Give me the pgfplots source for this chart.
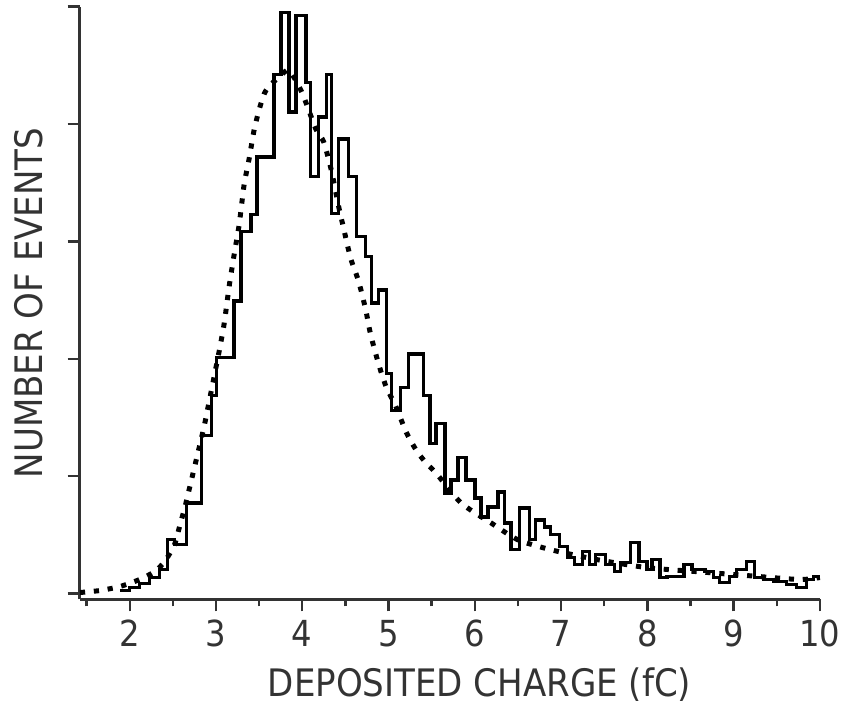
\documentclass[border=0pt]{standalone}
\usepackage{pgfplots}
\pgfplotsset{compat=1.18}
\usepackage{fontspec}
\setmainfont{DejaVu Sans Condensed}
\definecolor{axcol}{HTML}{333333}
\begin{document}
\begin{tikzpicture}
\begin{axis}[
  width=371.5pt, height=297.5pt, scale only axis,
  xmin=1.42, xmax=10, ymin=-0.05, ymax=5,
  axis lines=left, axis line style={-, line width=1.4pt, axcol},
  xtick={2,3,4,5,6,7,8,9,10},
  minor xtick={1.5,2.5,3.5,4.5,5.5,6.5,7.5,8.5,9.5},
  ytick={0,1,2,3,4,5}, yticklabels={},
  tick align=outside,
  major tick length=6pt, minor tick length=3.5pt,
  every tick/.style={line width=1.2pt, axcol},
  tick label style={font=\fontsize{18}{21}\selectfont, text=axcol},
  xticklabel style={yshift=-1pt},
  /pgf/number format/assume math mode=true,
  xlabel={DEPOSITED CHARGE (fC)},
  ylabel={NUMBER OF EVENTS},
  label style={font=\fontsize{19}{22}\selectfont, text=axcol},
  xlabel style={yshift=-3.5pt, xshift=15pt},
  ylabel style={yshift=2pt},
  clip=false,
]
% fitted curve (dotted)
\addplot[black, line width=2.5pt, dash pattern=on 2.6pt off 4.4pt, smooth, tension=0.4] coordinates {
(1.423,0.008) (1.654,0.025) (1.885,0.059) (2.115,0.119) (2.288,0.186) (2.404,0.271)
(2.519,0.415) (2.577,0.568) (2.646,0.754) (2.715,0.966) (2.784,1.178) (2.865,1.432)
(2.946,1.729) (3.038,2.068) (3.096,2.305) (3.153,2.619) (3.211,2.890) (3.269,3.144)
(3.326,3.483) (3.384,3.703) (3.442,3.949) (3.499,4.119) (3.557,4.254) (3.615,4.322)
(3.730,4.398) (3.845,4.458) (3.995,4.271) (4.157,3.958) (4.249,3.847) (4.341,3.593)
(4.422,3.297) (4.480,3.110) (4.561,2.856) (4.653,2.661) (4.734,2.424) (4.791,2.212)
(4.884,1.958) (4.976,1.754) (5.080,1.602) (5.206,1.373) (5.322,1.220) (5.437,1.110)
(5.552,1.025) (5.841,0.771) (6.187,0.602) (6.498,0.458) (6.879,0.373) (7.421,0.288)
(7.998,0.220) (8.574,0.186) (9.151,0.153) (9.762,0.119) (10.0,0.136)
};
% measured histogram
\addplot[black, line width=1.7pt, const plot mark left] coordinates {
(1.885,0.025) (2.000,0.051) (2.115,0.085) (2.231,0.136) (2.346,0.203) (2.438,0.458)
(2.519,0.415) (2.657,0.771) (2.830,1.347) (2.946,1.686) (3.003,2.008) (3.211,2.492)
(3.292,3.085) (3.407,3.229) (3.476,3.720) (3.672,4.424) (3.753,4.949) (3.845,4.102)
(3.926,4.924) (4.042,4.356) (4.099,3.551) (4.191,4.059) (4.284,4.424) (4.341,3.237)
(4.422,3.873) (4.537,3.551) (4.630,3.042) (4.734,2.873) (4.803,2.475) (4.884,2.585)
(4.976,1.873) (5.033,1.559) (5.137,1.754) (5.230,2.042) (5.403,1.686) (5.483,1.280)
(5.552,1.449) (5.656,0.856) (5.725,0.966) (5.806,1.161) (5.898,0.966) (6.002,0.814)
(6.071,0.653) (6.152,0.737) (6.268,0.864) (6.348,0.602) (6.418,0.373) (6.521,0.729)
(6.637,0.458) (6.706,0.627) (6.810,0.568) (6.879,0.500) (6.983,0.398) (7.075,0.305)
(7.156,0.246) (7.248,0.356) (7.329,0.246) (7.398,0.331) (7.513,0.246) (7.617,0.186)
(7.686,0.263) (7.802,0.432) (7.905,0.271) (7.998,0.203) (8.055,0.288) (8.148,0.136)
(8.228,0.144) (8.424,0.246) (8.517,0.203) (8.667,0.186) (8.770,0.136) (8.840,0.093)
(8.955,0.144) (9.036,0.203) (9.151,0.271) (9.243,0.136) (9.347,0.119) (9.463,0.102)
(9.612,0.076) (9.728,0.051) (9.843,0.119) (9.924,0.144) (10.0,0.144)
};
\end{axis}
\path[use as bounding box] ([xshift=-40pt,yshift=-52pt]current axis.south west) rectangle ([xshift=12pt,yshift=2.5pt]current axis.north east);
\end{tikzpicture}
\end{document}
